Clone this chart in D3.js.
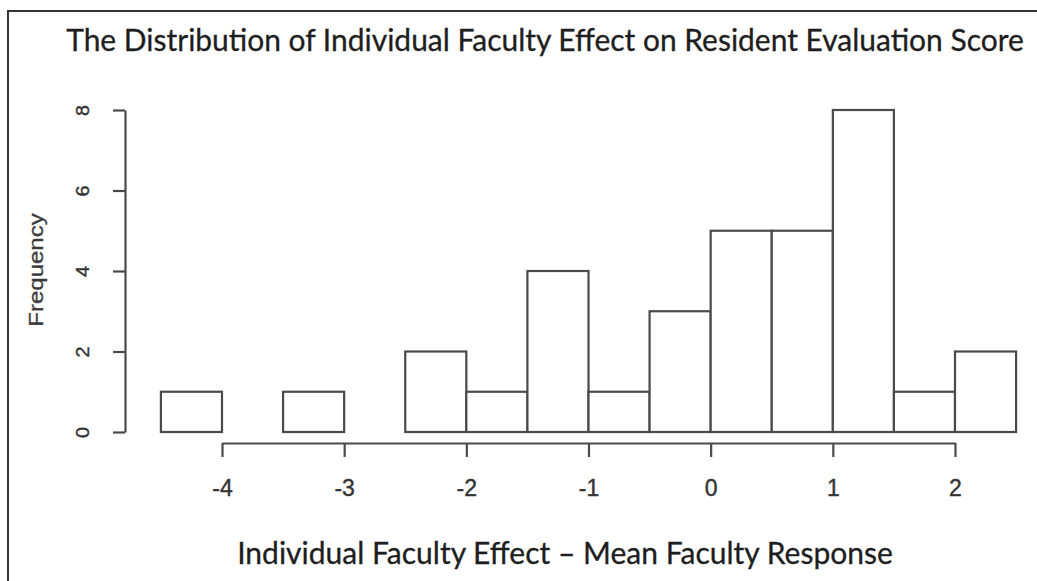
<!DOCTYPE html>
<html>
<head>
<meta charset="utf-8">
<script src="https://cdn.jsdelivr.net/npm/d3@7"></script>
<style>
  html, body { margin: 0; padding: 0; background: #fff; }
  svg { display: block; }
</style>
</head>
<body>
<svg id="chart" width="1037" height="581"></svg>
<script>
// Histogram bins: lower/upper edges and the count in each bin
const binStarts = [-4.5, -4.0, -3.5, -3.0, -2.5, -2.0, -1.5, -1.0, -0.5, 0.0, 0.5, 1.0, 1.5, 2.0];
const binEnds   = [-4.0, -3.5, -3.0, -2.5, -2.0, -1.5, -1.0, -0.5, 0.0, 0.5, 1.0, 1.5, 2.0, 2.5];
const counts    = [1, 0, 1, 0, 2, 1, 4, 1, 3, 5, 5, 8, 1, 2];

const xTicks = [-4, -3, -2, -1, 0, 1, 2];
const yTicks = [0, 2, 4, 6, 8];

const titleText = "The Distribution of Individual Faculty Effect on Resident Evaluation Score";
const xLabelText = "Individual Faculty Effect \u2013 Mean Faculty Response";
const yLabelText = "Frequency";

const svg = d3.select("#chart");
const lineColor = "#4a4a4a";
const textColor = "#1e1e1e";
const sansR = "'Liberation Sans', Arial, sans-serif";

const x = d3.scaleLinear().domain([-4, 2]).range([222, 955]);
const y = d3.scaleLinear().domain([0, 8]).range([432, 110]);

// Outer frame (top and left edges)
svg.append("path")
  .attr("d", "M8,581 L8,11 L1037,11")
  .attr("fill", "none")
  .attr("stroke", "#333")
  .attr("stroke-width", 2);

// Bars
const bins = binStarts.map((s, i) => ({ x0: s, x1: binEnds[i], n: counts[i] }));
svg.append("g").selectAll("rect")
  .data(bins)
  .join("rect")
  .attr("x", d => x(d.x0))
  .attr("width", d => x(d.x1) - x(d.x0))
  .attr("y", d => y(d.n))
  .attr("height", d => y(0) - y(d.n))
  .attr("fill", "#fff")
  .attr("stroke", lineColor)
  .attr("stroke-width", 2.2);

// X axis (detached below the bars)
const xAxis = svg.append("g")
  .attr("transform", "translate(0,443)")
  .call(d3.axisBottom(x).tickValues(xTicks).tickSize(14).tickSizeOuter(0).tickFormat(d3.format("d")));
xAxis.attr("font-family", sansR).attr("font-size", 23);
xAxis.select(".domain").attr("stroke", lineColor).attr("stroke-width", 2.2);
xAxis.selectAll(".tick line").attr("stroke", lineColor).attr("stroke-width", 2.2);
xAxis.selectAll(".tick text")
  .attr("y", 53)
  .attr("dy", null)
  .attr("fill", "#333")
  .attr("stroke", "#333")
  .attr("stroke-width", 0.4)
  .text(d => d < 0 ? "-" + Math.abs(d) : d);

// Y axis with rotated labels
const yAxis = svg.append("g")
  .attr("transform", "translate(125,0)")
  .call(d3.axisLeft(y).tickValues(yTicks).tickSize(12).tickSizeOuter(0));
yAxis.attr("font-family", sansR).attr("font-size", 18);
yAxis.select(".domain").attr("stroke", lineColor).attr("stroke-width", 2.2);
yAxis.selectAll(".tick line").attr("stroke", lineColor).attr("stroke-width", 2.2);
yAxis.selectAll(".tick text").remove();
yAxis.selectAll(".tick").append("text")
  .attr("transform", "translate(-36,0) rotate(-90) scale(1.1,1)")
  .attr("text-anchor", "middle")
  .attr("fill", "#333")
  .attr("stroke", "#333")
  .attr("stroke-width", 0.4)
  .text(d => d);

// Y axis title
svg.append("text")
  .attr("transform", "translate(43,270) rotate(-90) scale(1.2,1)")
  .attr("text-anchor", "middle")
  .attr("fill", "#3a3a3a")
  .attr("stroke", "#3a3a3a")
  .attr("stroke-width", 0.3)
  .attr("font-family", sansR)
  .attr("font-size", 20)
  .text(yLabelText);

// Title and x axis title, sized to their spans
function fitText(sel, width, baseSize) {
  sel.attr("font-size", baseSize);
  const w = sel.node().getComputedTextLength();
  sel.attr("font-size", baseSize * width / w);
}

const title = svg.append("text")
  .attr("x", 545)
  .attr("y", 51)
  .attr("text-anchor", "middle")
  .attr("fill", textColor)
  .attr("stroke", textColor)
  .attr("stroke-width", 0.3)
  .attr("font-family", "Lato, 'Open Sans', sans-serif")
  .text(titleText);
fitText(title, 958, 26);

const xLabel = svg.append("text")
  .attr("x", 565)
  .attr("y", 564)
  .attr("text-anchor", "middle")
  .attr("fill", textColor)
  .attr("stroke", textColor)
  .attr("stroke-width", 0.3)
  .attr("font-family", "Lato, 'Open Sans', sans-serif")
  .text(xLabelText);
fitText(xLabel, 656, 26);
</script>
</body>
</html>
